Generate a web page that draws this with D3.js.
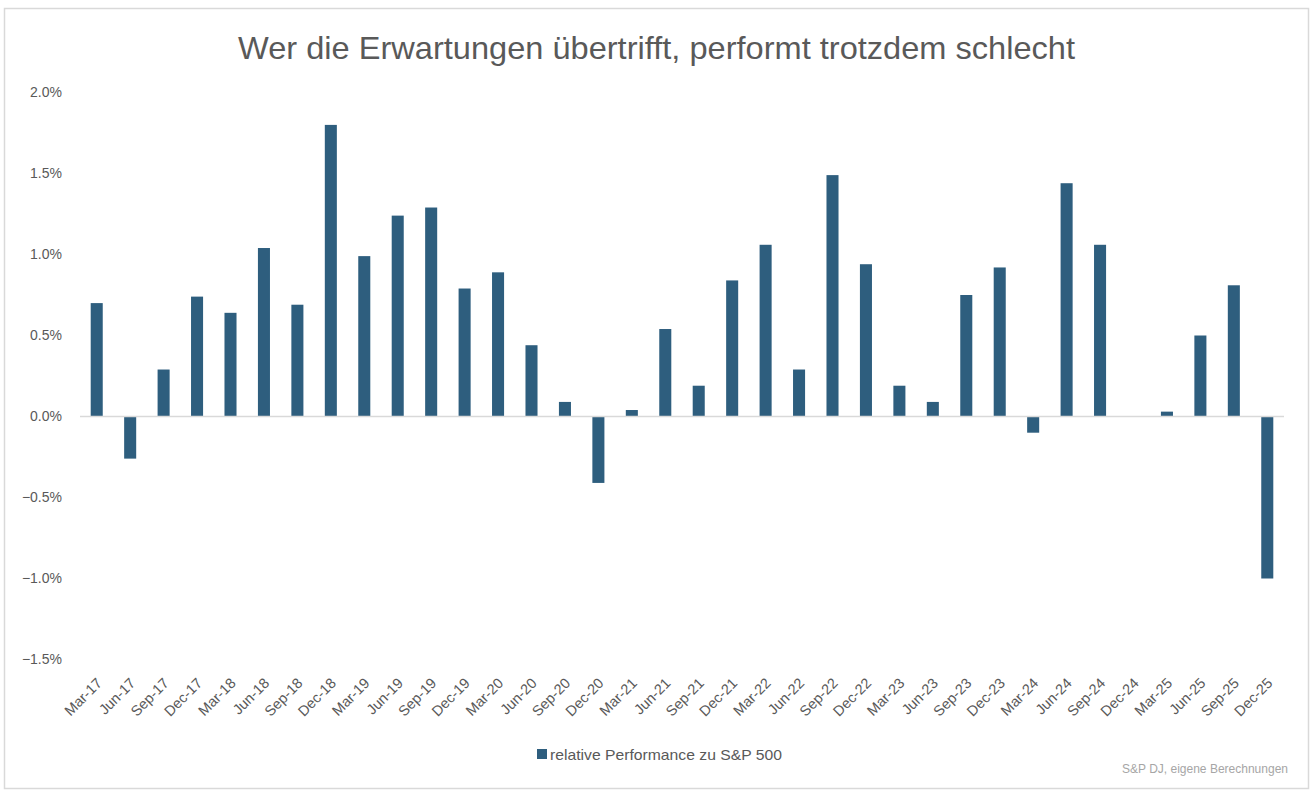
<!DOCTYPE html>
<html>
<head>
<meta charset="utf-8">
<script src="https://cdnjs.cloudflare.com/ajax/libs/d3/7.8.5/d3.min.js"></script>
<style>
  body { margin: 0; background: #fff; }
</style>
</head>
<body>
<div id="chart"></div>
<script>
// quarterly labels and values (in %)
var quarters = ["Mar-17","Jun-17","Sep-17","Dec-17","Mar-18","Jun-18","Sep-18","Dec-18",
  "Mar-19","Jun-19","Sep-19","Dec-19","Mar-20","Jun-20","Sep-20","Dec-20",
  "Mar-21","Jun-21","Sep-21","Dec-21","Mar-22","Jun-22","Sep-22","Dec-22",
  "Mar-23","Jun-23","Sep-23","Dec-23","Mar-24","Jun-24","Sep-24","Dec-24",
  "Mar-25","Jun-25","Sep-25","Dec-25"];
var relPerf = [0.70, -0.26, 0.29, 0.74, 0.64, 1.04, 0.69, 1.80,
  0.99, 1.24, 1.29, 0.79, 0.89, 0.44, 0.09, -0.41,
  0.04, 0.54, 0.19, 0.84, 1.06, 0.29, 1.49, 0.94,
  0.19, 0.09, 0.75, 0.92, -0.10, 1.44, 1.06, 0.00,
  0.03, 0.50, 0.81, -1.00];
var yTicks = [2.0, 1.5, 1.0, 0.5, 0.0, -0.5, -1.0, -1.5];

var title = "Wer die Erwartungen übertrifft, performt trotzdem schlecht";
var seriesName = "relative Performance zu S&P 500";
var source = "S&P DJ, eigene Berechnungen";

var width = 1314, height = 794;
var barColor = "#2E5E7E";
var textColor = "#595959";
var plain = "'Liberation Sans', Arial, sans-serif";

var svg = d3.select("#chart").append("svg")
  .attr("width", width)
  .attr("height", height);

// chart frame
svg.append("rect")
  .attr("x", 4.5).attr("y", 8.5)
  .attr("width", 1304).attr("height", 780)
  .attr("fill", "#fff")
  .attr("stroke", "#d9d9d9")
  .attr("stroke-width", 1.5);

// title - narrow look, squeezed to the reference width
svg.append("text")
  .attr("x", 238).attr("y", 59)
  .attr("font-family", plain)
  .attr("font-size", 32)
  .attr("fill", textColor)
  .attr("textLength", 837)
  .attr("lengthAdjust", "spacingAndGlyphs")
  .text(title);

var x = d3.scaleBand()
  .domain(quarters)
  .range([80, 1284])
  .paddingInner(0.64)
  .paddingOuter(0.32);

var y = d3.scaleLinear()
  .domain([-1.5, 2.0])
  .range([659.5, 92.5]);

// y axis labels (no line, no ticks)
var yAxis = d3.axisLeft(y)
  .tickValues(yTicks)
  .tickSize(0)
  .tickPadding(0)
  .tickFormat(function(d) { return d3.format(".1f")(d) + "%"; });

svg.append("g")
  .attr("transform", "translate(62, 0)")
  .call(yAxis)
  .call(function(g) { g.select(".domain").remove(); })
  .call(function(g) {
    g.selectAll("text")
      .attr("font-family", plain)
      .attr("font-size", 14)
      .attr("fill", textColor);
  });

// bars
svg.append("g")
  .selectAll("rect")
  .data(relPerf)
  .join("rect")
    .attr("x", function(d, i) { return x(quarters[i]); })
    .attr("y", function(d) { return y(Math.max(0, d)); })
    .attr("width", x.bandwidth())
    .attr("height", function(d) { return Math.abs(y(d) - y(0)); })
    .attr("fill", barColor);

// zero line
svg.append("line")
  .attr("x1", 80).attr("x2", 1284)
  .attr("y1", y(0)).attr("y2", y(0))
  .attr("stroke", "#d9d9d9")
  .attr("stroke-width", 1.5);

// x axis labels, rotated
var xAxis = d3.axisBottom(x).tickSize(0).tickPadding(0);
svg.append("g")
  .attr("transform", "translate(0, 678)")
  .call(xAxis)
  .call(function(g) { g.select(".domain").remove(); })
  .call(function(g) {
    g.selectAll("text")
      .attr("font-family", plain)
      .attr("font-size", 14.5)
      .attr("fill", textColor)
      .attr("text-anchor", "end")
      .attr("dy", "0.6em")
      .attr("transform", "rotate(-45)");
  });

// legend
var legend = svg.append("g").attr("transform", "translate(537, 749)");
legend.append("rect")
  .attr("width", 10).attr("height", 10)
  .attr("fill", barColor);
legend.append("text")
  .attr("x", 13).attr("y", 10.5)
  .attr("font-family", plain)
  .attr("font-size", 15)
  .attr("fill", textColor)
  .attr("textLength", 232)
  .attr("lengthAdjust", "spacingAndGlyphs")
  .text(seriesName);

svg.append("text")
  .attr("x", 1122).attr("y", 773)
  .attr("font-family", plain)
  .attr("font-size", 12.5)
  .attr("fill", "#a6a6a6")
  .attr("textLength", 166)
  .attr("lengthAdjust", "spacingAndGlyphs")
  .text(source);
</script>
</body>
</html>
